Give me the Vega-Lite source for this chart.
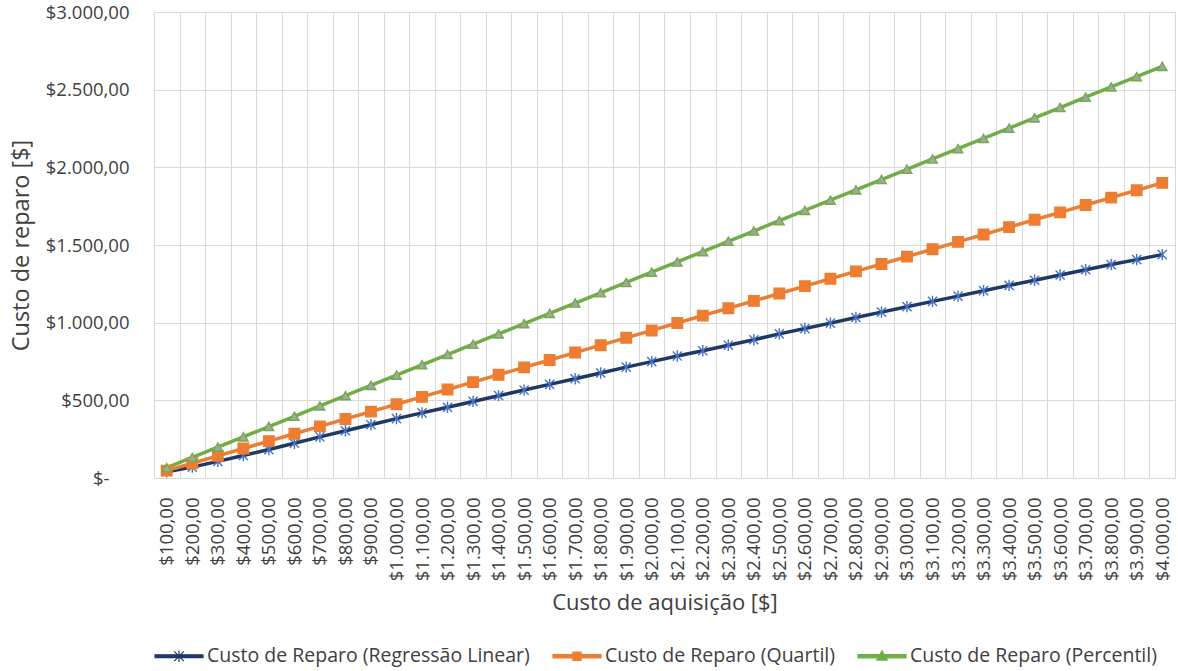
{
  "$schema": "https://vega.github.io/schema/vega-lite/v6.json",
  "width": 1021,
  "height": 466,
  "autosize": {"type": "none"},
  "padding": {"left": 154, "top": 12, "right": 3, "bottom": 193},
  "background": "white",
  "config": {
    "font": "Open Sans",
    "view": {"stroke": null},
    "axis": {"labelColor": "#404040", "titleColor": "#404040", "titleFontWeight": "normal", "gridColor": "#D9D9D9", "gridWidth": 1}
  },
  "data": {
    "values": [
      {"aquisicao": 100, "rl": 40, "qt": 47.5, "pc": 66.25},
      {"aquisicao": 200, "rl": 70, "qt": 95, "pc": 132.5},
      {"aquisicao": 300, "rl": 107, "qt": 142.5, "pc": 198.75},
      {"aquisicao": 400, "rl": 145, "qt": 190, "pc": 265},
      {"aquisicao": 500, "rl": 183, "qt": 237.5, "pc": 331.25},
      {"aquisicao": 600, "rl": 224, "qt": 285, "pc": 397.5},
      {"aquisicao": 700, "rl": 265, "qt": 332.5, "pc": 463.75},
      {"aquisicao": 800, "rl": 304, "qt": 380, "pc": 530},
      {"aquisicao": 900, "rl": 343, "qt": 427.5, "pc": 596.25},
      {"aquisicao": 1000, "rl": 382, "qt": 475, "pc": 662.5},
      {"aquisicao": 1100, "rl": 419, "qt": 522.5, "pc": 728.75},
      {"aquisicao": 1200, "rl": 455, "qt": 570, "pc": 795},
      {"aquisicao": 1300, "rl": 493, "qt": 617.5, "pc": 861.25},
      {"aquisicao": 1400, "rl": 530, "qt": 665, "pc": 927.5},
      {"aquisicao": 1500, "rl": 566, "qt": 712.5, "pc": 993.75},
      {"aquisicao": 1600, "rl": 603, "qt": 760, "pc": 1060},
      {"aquisicao": 1700, "rl": 639, "qt": 807.5, "pc": 1126.25},
      {"aquisicao": 1800, "rl": 676, "qt": 855, "pc": 1192.5},
      {"aquisicao": 1900, "rl": 714, "qt": 902.5, "pc": 1258.75},
      {"aquisicao": 2000, "rl": 749, "qt": 950, "pc": 1325},
      {"aquisicao": 2100, "rl": 785, "qt": 997.5, "pc": 1391.25},
      {"aquisicao": 2200, "rl": 819, "qt": 1045, "pc": 1457.5},
      {"aquisicao": 2300, "rl": 855, "qt": 1092.5, "pc": 1523.75},
      {"aquisicao": 2400, "rl": 890, "qt": 1140, "pc": 1590},
      {"aquisicao": 2500, "rl": 928, "qt": 1187.5, "pc": 1656.25},
      {"aquisicao": 2600, "rl": 962, "qt": 1235, "pc": 1722.5},
      {"aquisicao": 2700, "rl": 997, "qt": 1282.5, "pc": 1788.75},
      {"aquisicao": 2800, "rl": 1033, "qt": 1330, "pc": 1855},
      {"aquisicao": 2900, "rl": 1068, "qt": 1377.5, "pc": 1921.25},
      {"aquisicao": 3000, "rl": 1103, "qt": 1425, "pc": 1987.5},
      {"aquisicao": 3100, "rl": 1137, "qt": 1472.5, "pc": 2053.75},
      {"aquisicao": 3200, "rl": 1171, "qt": 1520, "pc": 2120},
      {"aquisicao": 3300, "rl": 1206, "qt": 1567.5, "pc": 2186.25},
      {"aquisicao": 3400, "rl": 1240, "qt": 1615, "pc": 2252.5},
      {"aquisicao": 3500, "rl": 1273, "qt": 1662.5, "pc": 2318.75},
      {"aquisicao": 3600, "rl": 1307, "qt": 1710, "pc": 2385},
      {"aquisicao": 3700, "rl": 1341, "qt": 1757.5, "pc": 2451.25},
      {"aquisicao": 3800, "rl": 1374, "qt": 1805, "pc": 2517.5},
      {"aquisicao": 3900, "rl": 1406, "qt": 1852.5, "pc": 2583.75},
      {"aquisicao": 4000, "rl": 1438, "qt": 1900, "pc": 2650}
    ]
  },
  "transform": [{"fold": ["rl", "qt", "pc"], "as": ["serie", "custo"]}],
  "encoding": {
    "x": {
      "field": "aquisicao",
      "type": "ordinal",
      "bandPosition": 0.5,
      "scale": {"type": "band", "paddingInner": 0, "paddingOuter": 0},
      "axis": {
        "title": "Custo de aquisição [$]",
        "labelAngle": -90,
        "labelExpr": "isValid(datum.value) && !isNaN(datum.value) ? '$' + replace(replace(replace(format(datum.value, ',.2f'), ',', 'T'), '.', ','), 'T', '.') : ''",
        "tickBand": "extent",
        "ticks": false,
        "domain": false,
        "grid": true,
        "labelPadding": 19,
        "labelFontSize": 18.5,
        "titleFontSize": 22,
        "titlePadding": 12
      }
    },
    "y": {
      "field": "custo",
      "type": "quantitative",
      "scale": {"domain": [0, 3000]},
      "axis": {
        "title": "Custo de reparo [$]",
        "values": [0, 500, 1000, 1500, 2000, 2500, 3000],
        "labelExpr": "datum.value == 0 ? '$-' : '$' + replace(replace(replace(format(datum.value, ',.2f'), ',', 'T'), '.', ','), 'T', '.')",
        "domain": false,
        "ticks": false,
        "labelPadding": {"condition": {"test": "datum.value == 0", "value": 45}, "value": 25},
        "labelFontSize": 18.5,
        "titleFontSize": 23.5,
        "titlePadding": 12
      }
    }
  },
  "layer": [
    {
      "mark": {"type": "line", "strokeWidth": 3.5},
      "encoding": {
        "color": {
          "field": "serie",
          "type": "nominal",
          "scale": {"domain": ["rl", "qt", "pc"], "range": ["#203864", "#ED7D31", "#70AD47"]},
          "legend": {
            "orient": "bottom",
            "direction": "horizontal",
            "title": null,
            "offset": 17,
            "labelExpr": "datum.value == 'rl' ? 'Custo de Reparo (Regressão Linear)' : datum.value == 'qt' ? 'Custo de Reparo (Quartil)' : 'Custo de Reparo (Percentil)'",
            "labelFontSize": 19.5,
            "labelColor": "#404040",
            "labelLimit": 0,
            "symbolSize": 2304,
            "symbolType": "M-1,-0.065H1V0.065H-1Z",
            "labelOffset": 3,
            "columnPadding": 20,
            "encode": {
              "symbols": {
                "enter": {
                  "shape": {"signal": "datum.value == 'rl' ? 'M-1,-0.06H1V0.06H-1Z M-0.2,-0.2L0.2,0.2M-0.2,0.2L0.2,-0.2M0,-0.24L0,0.24' : datum.value == 'qt' ? 'M-1,-0.065H1V0.065H-1Z M-0.17,-0.17H0.17V0.17H-0.17Z' : 'M-1,-0.065H1V0.065H-1Z M0,-0.23L0.22,0.16L-0.22,0.16Z'"}
                },
                "update": {
                  "shape": {"signal": "datum.value == 'rl' ? 'M-1,-0.06H1V0.06H-1Z M-0.2,-0.2L0.2,0.2M-0.2,0.2L0.2,-0.2M0,-0.24L0,0.24' : datum.value == 'qt' ? 'M-1,-0.065H1V0.065H-1Z M-0.17,-0.17H0.17V0.17H-0.17Z' : 'M-1,-0.065H1V0.065H-1Z M0,-0.23L0.22,0.16L-0.22,0.16Z'"},
                  "fill": {"signal": "datum.value == 'rl' ? '#203864' : datum.value == 'qt' ? '#ED7D31' : '#70AD47'"},
                  "stroke": {"signal": "datum.value == 'rl' ? '#4472C4' : datum.value == 'qt' ? '#ED7D31' : '#70AD47'"},
                  "strokeWidth": {"value": 1.2},
                  "opacity": {"value": 1}
                }
              }
            }
          }
        }
      }
    },
    {
      "mark": {"type": "point", "opacity": 1},
      "encoding": {
        "shape": {
          "field": "serie",
          "type": "nominal",
          "scale": {"domain": ["rl", "qt", "pc"], "range": ["M-0.8,-0.8L0.8,0.8M-0.8,0.8L0.8,-0.8M0,-1L0,1", "square", "triangle-up"]},
          "legend": null
        },
        "fill": {
          "field": "serie",
          "type": "nominal",
          "scale": {"domain": ["rl", "qt", "pc"], "range": ["transparent", "#ED7D31", "#A5A5A5"]},
          "legend": null
        },
        "stroke": {
          "field": "serie",
          "type": "nominal",
          "scale": {"domain": ["rl", "qt", "pc"], "range": ["#4472C4", "#ED7D31", "#70AD47"]},
          "legend": null
        },
        "size": {
          "field": "serie",
          "type": "nominal",
          "scale": {"domain": ["rl", "qt", "pc"], "range": [130, 90, 120]},
          "legend": null
        },
        "strokeWidth": {"value": 1.4}
      }
    }
  ],
  "resolve": {"legend": {"shape": "independent", "fill": "independent", "stroke": "independent", "size": "independent"}}
}
